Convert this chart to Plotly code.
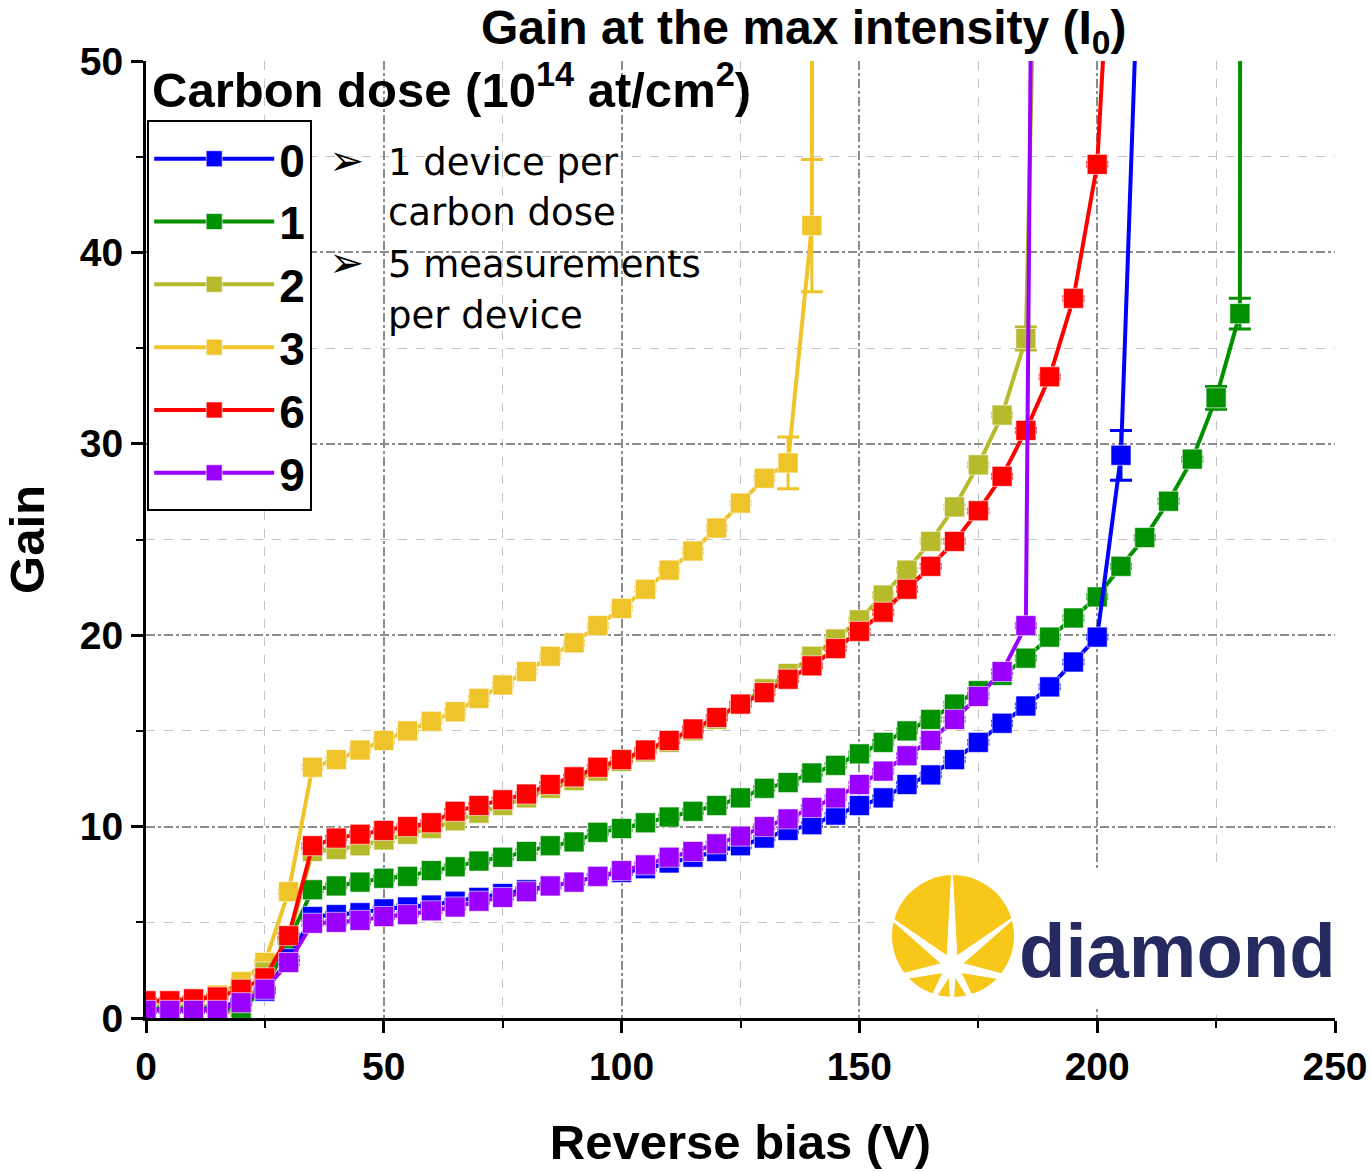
import math
import plotly.graph_objects as go

bias = [0, 5, 10, 15, 20, 25, 30, 35, 40, 45, 50, 55, 60, 65, 70, 75, 80, 85, 90, 95,
        100, 105, 110, 115, 120, 125, 130, 135, 140, 145, 150, 155, 160, 165, 170, 175,
        180, 185, 190, 195, 200, 205, 210, 215, 220, 225, 230]

# dose 0 (blue)
x_d0 = bias[:42] + [210]
g_d0 = [0.4, 0.4, 0.4, 0.5, 0.9, 1.4, 3.1, 5.3, 5.4, 5.5, 5.7, 5.8, 5.9, 6.1, 6.3, 6.5,
        6.7, 6.9, 7.1, 7.4, 7.6, 7.8, 8.1, 8.4, 8.7, 9.0, 9.4, 9.8, 10.1, 10.6, 11.1, 11.5,
        12.2, 12.7, 13.5, 14.4, 15.4, 16.3, 17.3, 18.6, 19.9, 29.4, 65.0]
e_d0 = [0.1] * 41 + [1.3, 0]

# dose 1 (green)
x_d1 = bias + [230.3]
g_d1 = [0.5, 0.5, 0.5, 0.5, 0.5, 1.5, 4.0, 6.7, 6.9, 7.1, 7.3, 7.4, 7.7, 7.9, 8.2, 8.4,
        8.7, 9.0, 9.2, 9.7, 9.9, 10.2, 10.5, 10.8, 11.1, 11.5, 12.0, 12.3, 12.8, 13.2,
        13.8, 14.4, 15.0, 15.6, 16.4, 17.1, 17.9, 18.8, 19.9, 20.9, 22.0, 23.6, 25.1,
        27.0, 29.2, 32.4, 36.8, 120.0]
e_d1 = [0.1] * 45 + [0.6, 0.8, 0]

# dose 2 (olive)
x_d2 = bias[:38] + [189]
g_d2 = [0.6, 0.6, 0.6, 0.6, 0.05, 2.4, 4.1, 8.7, 8.8, 9.0, 9.3, 9.6, 9.9, 10.3, 10.7,
        11.1, 11.5, 12.0, 12.4, 12.9, 13.4, 13.9, 14.4, 15.0, 15.6, 16.4, 17.2, 18.0,
        18.9, 19.8, 20.8, 22.1, 23.4, 24.9, 26.7, 28.9, 31.5, 35.5, 80.0]
e_d2 = [0.1] * 37 + [0.6, 0]

# dose 3 (yellow)
x_d3 = bias[:29] + [140.3]
g_d3 = [0.8, 0.9, 1.0, 1.2, 1.9, 2.9, 6.6, 13.1, 13.5, 14.0, 14.5, 15.0, 15.5, 16.0,
        16.7, 17.4, 18.1, 18.9, 19.6, 20.5, 21.4, 22.4, 23.4, 24.4, 25.6, 26.9, 28.2,
        29.0, 41.4, 120.0]
e_d3 = [0.1] * 27 + [1.35, 3.45, 0]

# dose 6 (red)
x_d6 = bias[:41] + [205]
g_d6 = [0.9, 0.9, 1.0, 1.1, 1.5, 2.1, 4.3, 9.0, 9.4, 9.6, 9.8, 10.0, 10.2, 10.8, 11.1,
        11.4, 11.7, 12.2, 12.6, 13.1, 13.5, 14.0, 14.5, 15.1, 15.7, 16.4, 17.0, 17.7,
        18.4, 19.3, 20.2, 21.2, 22.4, 23.6, 24.9, 26.5, 28.3, 30.7, 33.5, 37.6, 44.6, 67.0]
e_d6 = [0.1] * 41 + [0]

# dose 9 (purple)
x_d9 = bias[:38] + [187]
g_d9 = [0.4, 0.4, 0.4, 0.4, 0.8, 1.5, 2.9, 4.95, 5.0, 5.1, 5.3, 5.4, 5.6, 5.8, 6.1, 6.3,
        6.6, 6.9, 7.1, 7.4, 7.7, 8.0, 8.4, 8.7, 9.1, 9.5, 10.0, 10.4, 11.0, 11.5, 12.2,
        12.9, 13.7, 14.5, 15.6, 16.8, 18.1, 20.5, 80.0]
e_d9 = [0.1] * 38 + [0]

# draw order (bottom -> top) and legend rank
series = [
    ("3", x_d3, g_d3, e_d3, "#efc42a", 4),
    ("2", x_d2, g_d2, e_d2, "#b6ba2b", 3),
    ("1", x_d1, g_d1, e_d1, "#009000", 2),
    ("0", x_d0, g_d0, e_d0, "#0000ff", 1),
    ("6", x_d6, g_d6, e_d6, "#ff0000", 5),
    ("9", x_d9, g_d9, e_d9, "#9900ff", 6),
]

fig = go.Figure()
for name, xs, ys, es, col, rank in series:
    fig.add_trace(go.Scatter(
        x=xs, y=ys, name=name, mode="lines+markers", legendrank=rank,
        line=dict(color=col, width=4),
        marker=dict(symbol="square", size=20, color=col,
                    line=dict(color="rgba(255,255,255,0.6)", width=1)),
        error_y=dict(type="data", array=es, visible=True, color=col,
                     thickness=3, width=11),
    ))

XL, XR, YT, YB = 146, 1335, 61, 1018
def px2x(p):
    return (p - XL) / (XR - XL) * 250
def px2y(p):
    return (YB - p) / (YB - YT) * 50
def pxp(p):
    return (p - XL) / (XR - XL)
def pyp(p):
    return (YB - p) / (YB - YT)

shapes = []
# logo background
shapes.append(dict(type="rect", xref="x", yref="y", x0=px2x(880), x1=249.7,
                   y0=px2y(1008), y1=px2y(870), fillcolor="white",
                   line=dict(width=0), layer="above"))
# logo sun
cx, cy, r = 953, 936, 61
shapes.append(dict(type="circle", xref="x", yref="y", x0=px2x(cx - r), x1=px2x(cx + r),
                   y0=px2y(cy + r), y1=px2y(cy - r), fillcolor="#f7c81a",
                   line=dict(width=0), layer="above"))
# starburst (rays extend past the circle onto the white background)
sx, sy = 952, 966
rays = [(-150, 70), (-102, 100), (-52, 90), (0, 100), (52, 90), (102, 100),
        (150, 70), (180, 60)]
pts = []
for i, (ang, length) in enumerate(rays):
    a = math.radians(ang)
    pts.append((sx + length * math.sin(a), sy - length * math.cos(a)))
    nxt = rays[(i + 1) % len(rays)][0]
    if nxt < ang:
        nxt += 360
    m = math.radians((ang + nxt) / 2)
    pts.append((sx + 11 * math.sin(m), sy - 11 * math.cos(m)))
path = "M " + " L ".join(f"{px2x(a):.3f},{px2y(b):.3f}" for a, b in pts) + " Z"
shapes.append(dict(type="path", xref="x", yref="y", path=path, fillcolor="white",
                   line=dict(color="white", width=1), layer="above"))

fig.update_layout(
    width=1370, height=1172,
    margin=dict(l=XL, r=1370 - XR, t=YT, b=1172 - YB),
    paper_bgcolor="white", plot_bgcolor="white",
    font=dict(family="Liberation Sans", color="black"),
    showlegend=True,
    legend=dict(x=0.001, y=0.938, xanchor="left", yanchor="top",
                bordercolor="black", borderwidth=2, bgcolor="white",
                font=dict(size=46, family="Liberation Sans", weight="bold"),
                itemwidth=120, tracegroupgap=0),
    shapes=shapes,
)

fig.update_xaxes(
    range=[0, 250], tickvals=[0, 50, 100, 150, 200, 250], automargin=False,
    showline=True, linecolor="black", linewidth=3,
    ticks="outside", ticklen=12, tickwidth=3, tickcolor="black",
    tickfont=dict(size=39, family="Liberation Sans", weight="bold"),
    showgrid=True, gridcolor="#8c8c8c", gridwidth=1.5, griddash="dashdot",
    minor=dict(tickvals=[25, 75, 125, 175, 225], ticks="outside", ticklen=7, tickwidth=2,
               tickcolor="black", showgrid=True, gridcolor="#c4c4c4", griddash="dash",
               gridwidth=1),
    zeroline=False,
    title=dict(text="Reverse bias (V)", standoff=38,
               font=dict(size=49, family="Liberation Sans", weight="bold")),
)
fig.update_yaxes(
    range=[0, 50], tickvals=[0, 10, 20, 30, 40, 50], automargin=False,
    showline=True, linecolor="black", linewidth=3,
    ticks="outside", ticklen=12, tickwidth=3, tickcolor="black",
    tickfont=dict(size=39, family="Liberation Sans", weight="bold"),
    showgrid=True, gridcolor="#8c8c8c", gridwidth=1.5, griddash="dashdot",
    minor=dict(tickvals=[5, 15, 25, 35, 45], ticks="outside", ticklen=7, tickwidth=2,
               tickcolor="black", showgrid=True, gridcolor="#c4c4c4", griddash="dash",
               gridwidth=1),
    zeroline=False,
    title=dict(text="Gain", standoff=20,
               font=dict(size=49, family="Liberation Sans", weight="bold")),
)

ann = []
ann.append(dict(text="Gain at the max intensity (I<sub>0</sub>)", xref="paper", yref="paper",
                x=pxp(803), y=pyp(31), xanchor="center", yanchor="middle", showarrow=False,
                font=dict(size=48, family="Liberation Sans", weight="bold")))
ann.append(dict(text="Carbon dose (10<sup>14</sup> at/cm<sup>2</sup>)", xref="paper", yref="paper",
                x=pxp(150), y=pyp(86), xanchor="left", yanchor="middle",
                showarrow=False,
                font=dict(size=49, family="Liberation Sans", weight="bold")))
for yy in (160, 262):
    ann.append(dict(text="➢", xref="paper", yref="paper", x=pxp(327), y=pyp(yy),
                    xanchor="left", yanchor="middle", showarrow=False,
                    font=dict(size=42, family="DejaVu Sans")))
for txt, yy in (("1 device per", 162), ("carbon dose", 213),
                ("5 measurements", 264), ("per device", 315)):
    ann.append(dict(text=txt, xref="paper", yref="paper", x=pxp(386), y=pyp(yy),
                    xanchor="left", yanchor="middle", showarrow=False,
                    font=dict(size=37, family="DejaVu Sans")))
ann.append(dict(text="diamond", xref="paper", yref="paper",
                x=pxp(1177), y=pyp(950), xanchor="center", yanchor="middle",
                showarrow=False,
                font=dict(size=76, family="Liberation Sans", weight="bold",
                          color="#252b60")))
fig.update_layout(annotations=ann)

fig.write_html("out.html")
